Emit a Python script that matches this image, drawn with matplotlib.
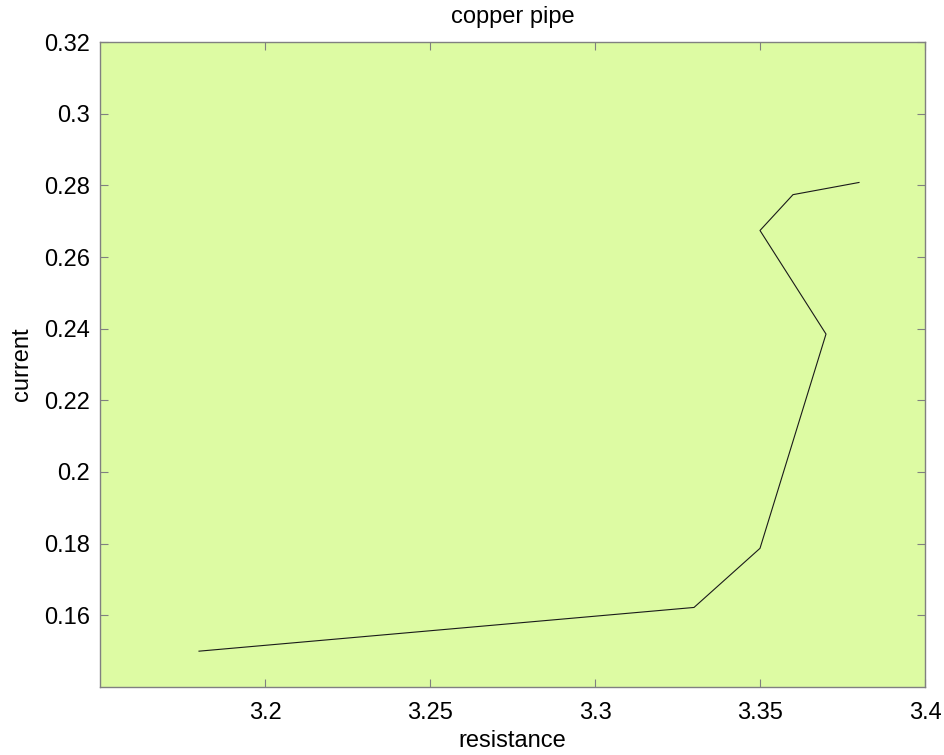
import matplotlib
matplotlib.use("Agg")
import matplotlib.pyplot as plt

resistance = [3.18, 3.33, 3.35, 3.37, 3.35, 3.36, 3.38]
current = [0.150, 0.1622, 0.1787, 0.2385, 0.2674, 0.2774, 0.2808]

x_ticks = [3.2, 3.25, 3.3, 3.35, 3.4]
x_tick_labels = ["3.2", "3.25", "3.3", "3.35", "3.4"]
y_ticks = [0.16, 0.18, 0.2, 0.22, 0.24, 0.26, 0.28, 0.3, 0.32]
y_tick_labels = ["0.16", "0.18", "0.2", "0.22", "0.24", "0.26", "0.28", "0.3", "0.32"]

plt.rcParams['font.family'] = ['Liberation Sans', 'DejaVu Sans']

fig = plt.figure(figsize=(9.45, 7.55), dpi=100)
ax = fig.add_axes([100/945, 1-687/755, 825/945, 645/755])
ax.set_facecolor('#ddfba3')

ax.plot(resistance, current, color='#1a1a1a', linewidth=0.8)

ax.set_xlim(3.15, 3.4)
ax.set_ylim(0.14, 0.32)
ax.set_xticks(x_ticks)
ax.set_xticklabels(x_tick_labels)
ax.set_yticks(y_ticks)
ax.set_yticklabels(y_tick_labels)

spine_color = '#808080'
for s in ax.spines.values():
    s.set_color(spine_color)
    s.set_linewidth(1.0)

ax.tick_params(axis='both', which='both', direction='in', length=6, width=0.8,
               color=spine_color, labelsize=17, top=True, right=True)
ax.tick_params(axis='x', pad=11)
ax.tick_params(axis='y', pad=7)

ax.set_title('copper pipe', fontsize=17, pad=14)
ax.set_xlabel('resistance', fontsize=17, labelpad=4)
ax.set_ylabel('current', fontsize=17, labelpad=8)

fig.savefig('out.png', dpi=100)
